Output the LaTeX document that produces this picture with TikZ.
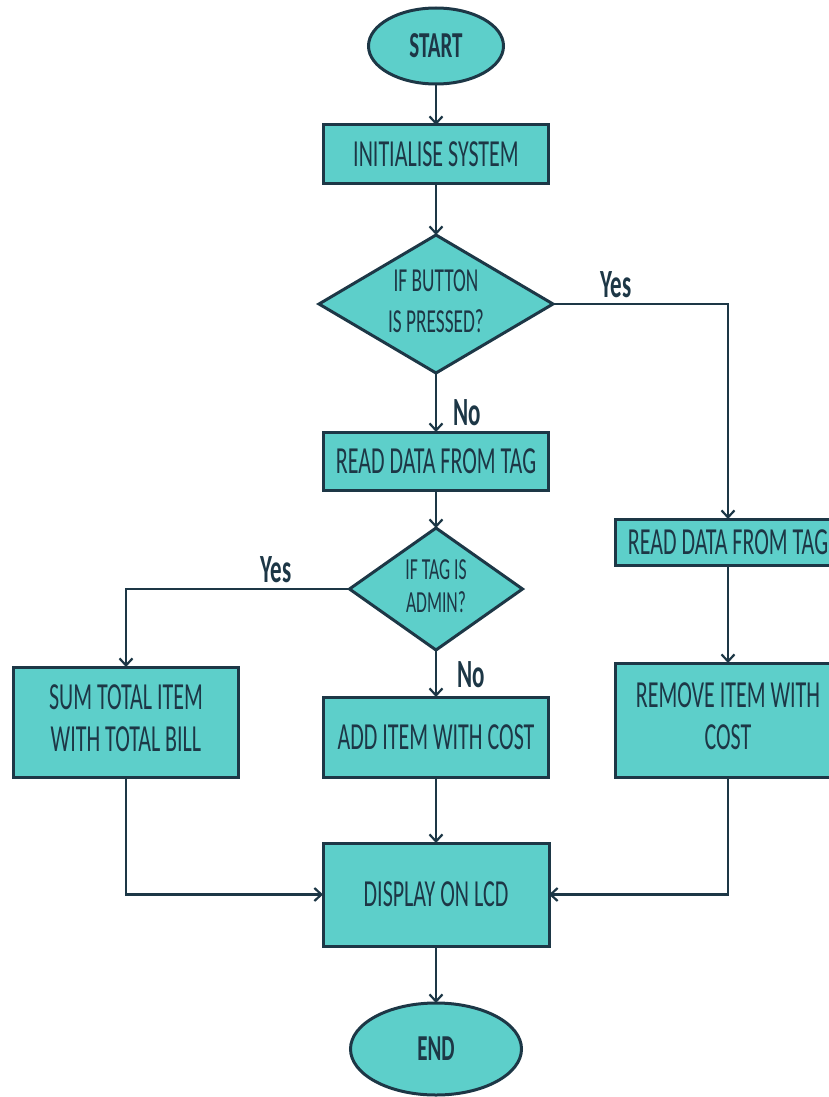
\documentclass[tikz,border=0pt]{standalone}
\usepackage{fontspec}
\setmainfont{Carlito}
\usetikzlibrary{shapes.geometric,arrows.meta,positioning}

\definecolor{flowfill}{HTML}{5DCFCA}
\definecolor{flowline}{HTML}{1D3746}

% the letters of the picture are drawn tall and narrow
\newcommand{\tallt}[1]{\scalebox{1}[1.74]{#1}}
\newcommand{\tlines}[1]{\tallt{\begin{tabular}{@{}c@{}}#1\end{tabular}}}

\tikzset{
  process/.style={rectangle, draw=flowline, line width=3pt, fill=flowfill,
    text=flowline, minimum width=225pt, inner sep=0pt, outer sep=0pt,
    font={\fontsize{22}{24.5}\selectfont}},
  decision/.style={diamond, draw=flowline, line width=3pt, fill=flowfill,
    text=flowline, inner sep=0pt, outer sep=0pt},
  terminal/.style={ellipse, draw=flowline, line width=3pt, fill=flowfill,
    text=flowline, inner sep=0pt, outer sep=0pt,
    font={\bfseries\fontsize{21}{24}\selectfont}},
  flow/.style={draw=flowline, line width=2.2pt,
    -{Straight Barb[length=7pt,width=13pt,line width=2.2pt]}},
  answer/.style={text=flowline, inner sep=0pt, font={\bfseries\fontsize{23}{25}\selectfont}}
}

\begin{document}
\begin{tikzpicture}
  \useasboundingbox (0pt,0pt) rectangle (828pt,-1097pt);

  \node (start) [terminal, minimum width=135pt, minimum height=76pt]
    at (436pt,-46pt) {\tallt{START}};
  \node (init) [process, minimum height=58pt, below=41pt of start]
    {\tallt{INITIALISE SYSTEM}};
  \node (button) [decision, aspect=1.7, minimum width=234pt, minimum height=138pt,
    font={\fontsize{19.3}{23}\selectfont}, below=52pt of init]
    {\tlines{IF BUTTON\\IS PRESSED?}};
  \node (read) [process, minimum height=58pt, below=59pt of button]
    {\tallt{READ DATA FROM TAG}};
  \node (admin) [decision, aspect=1.42, minimum width=173pt, minimum height=122pt,
    font={\fontsize{17.6}{19}\selectfont}, below=38pt of read]
    {\tlines{IF TAG IS\\ADMIN?}};
  \node (add) [process, minimum height=80pt, below=47pt of admin]
    {\tallt{ADD ITEM WITH COST}};
  \node (sum) [process, minimum height=110pt, left=85pt of add.south west, anchor=south east]
    {\tlines{SUM TOTAL ITEM\\WITH TOTAL BILL}};
  \node (remove) [process, minimum height=114pt, right=67pt of add.south east, anchor=south west]
    {\tlines{REMOVE ITEM WITH\\COST}};
  \node (readr) [process, minimum height=46pt, above=98pt of remove]
    {\tallt{READ DATA FROM TAG}};
  \node (display) [process, minimum width=226pt, minimum height=103pt, below=66pt of add]
    {\tallt{DISPLAY ON LCD}};
  \node (end) [terminal, minimum width=171pt, minimum height=92pt, below=57pt of display]
    {\tallt{END}};

  \draw[flow] (start) -- (init);
  \draw[flow] (init) -- (button);
  \draw[flow] (button) -- node [answer, pos=0.68, right=16pt] {\tallt{No}} (read);
  \draw[flow] (button.east) -| node [answer, pos=0.18, above=5pt] {\tallt{Yes}} (readr.north);
  \draw[flow] (read) -- (admin);
  \draw[flow] (admin) -- node [answer, pos=0.53, right=20pt] {\tallt{No}} (add);
  \draw[flow] (admin.west) -| node [answer, pos=0.165, above=5pt] {\tallt{Yes}} (sum.north);
  \draw[flow] (readr) -- (remove);
  \draw[flow] (add) -- (display);
  \draw[flow] (sum.south) |- (display.west);
  \draw[flow] (remove.south) |- (display.east);
  \draw[flow] (display) -- (end);
\end{tikzpicture}
\end{document}
